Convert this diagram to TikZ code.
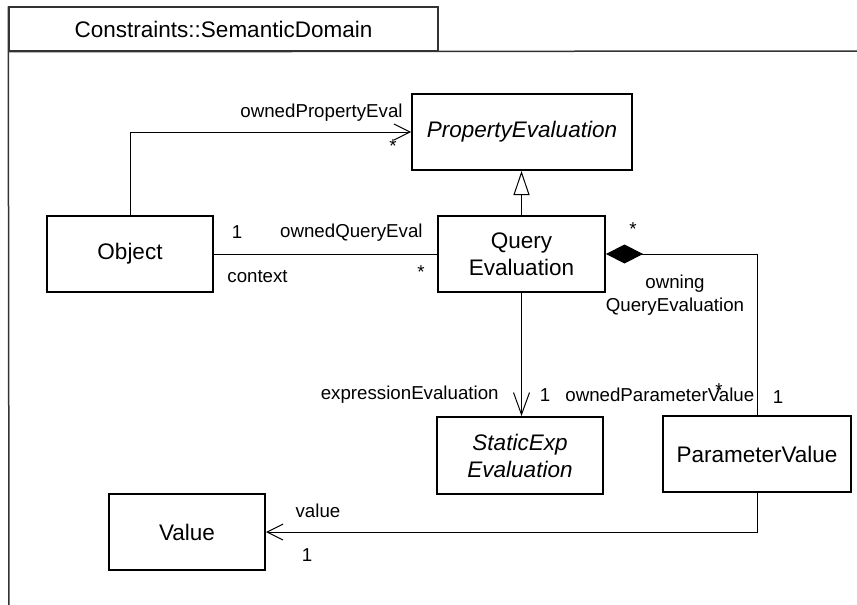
\documentclass[tikz,border=0pt]{standalone}
\usepackage{fontspec}
\setmainfont{Liberation Sans}
\usetikzlibrary{arrows.meta}

\tikzset{
  umlclass/.style={draw, line width=1pt, inner sep=0pt, align=center,
    font=\fontsize{11.25}{13.5}\selectfont},
  abstractclass/.style={umlclass, font=\fontsize{11.25}{13.5}\selectfont\itshape},
  role/.style={inner sep=0pt, font=\fontsize{9.35}{11.5}\selectfont},
  assoc/.style={line width=0.5pt},
  navigable/.style={assoc, -{Straight Barb[length=8pt,width=8pt]}},
}

\begin{document}
\begin{tikzpicture}[x=0.5pt, y=-0.5pt]
\useasboundingbox (0,0) rectangle (857,605);

% Package frame
\node[
    draw=black!80,
    line width=0.75pt,
    minimum width=214.5pt,
    minimum height=22pt,
    font=\fontsize{11.25}{13.5}\selectfont
] (title) at (223.5,29) {Constraints::SemanticDomain};
\coordinate (framebottom) at (9,605);
\coordinate (frameright) at (857,51);
\draw[draw=black!80, line width=0.75pt] (title.north west) -- (framebottom);
\draw[draw=black!80, line width=0.75pt] (title.south west) -- (frameright);

% Classes
\node[abstractclass, minimum width=110pt, minimum height=38pt] (pe) at (522,132) {PropertyEvaluation};
\node[umlclass, minimum width=83.5pt, minimum height=38pt] (qe) at (521.5,254) {Query\\Evaluation};
\node[umlclass, minimum width=83pt, minimum height=38pt] (obj) at (130,254) {Object};
\node[abstractclass, minimum width=83pt, minimum height=38.5pt] (se) at (520,455.5) {StaticExp\\Evaluation};
\node[umlclass, minimum width=94pt, minimum height=38pt] (pv) at (757,454) {ParameterValue};
\node[umlclass, minimum width=78pt, minimum height=38pt] (val) at (187,532) {Value};

% Generalization
\draw[assoc, -{Triangle[open, length=12pt, width=8pt]}] (qe.north) -- (qe.north |- pe.south);

% Associations
\draw[navigable] (obj.north) |- (pe.west);
\draw[assoc] (obj.east) -- (qe.west);
\draw[assoc, {Diamond[length=18.5pt, width=9.5pt]}-] (qe.east) -| (pv.north);
\draw[assoc, -{Straight Barb[length=11pt, width=8pt]}] (qe.south) -- (qe.south |- se.north);
\draw[navigable] (pv.south) |- (val.east);

% Role names and multiplicities
\node[role, anchor=east] (propname) at (403,113) {ownedPropertyEval};
\node[role] (propmult) at (393,146) {*};
\node[role] (objmult) at (237,232) {1};
\node[role, anchor=east] (queryname) at (423,233) {ownedQueryEval};
\node[role, anchor=west] (ctxname) at (227,277) {context};
\node[role] (querymult) at (421,272) {*};
\node[role] (owningmult) at (633,229) {*};
\node[role, align=center] (owningname) at (675,295) {owning\\QueryEvaluation};
\node[role, anchor=east] (exprname) at (499,395) {expressionEvaluation};
\node[role] (exprmult) at (545,395) {1};
\node[role, anchor=west] (paramname) at (565,395) {ownedParameterValue};
\node[role] (parammult) at (719,390) {*};
\node[role] (pvmult) at (778,397) {1};
\node[role] (valname) at (318,511) {value};
\node[role] (valmult) at (307,555) {1};

\end{tikzpicture}
\end{document}
